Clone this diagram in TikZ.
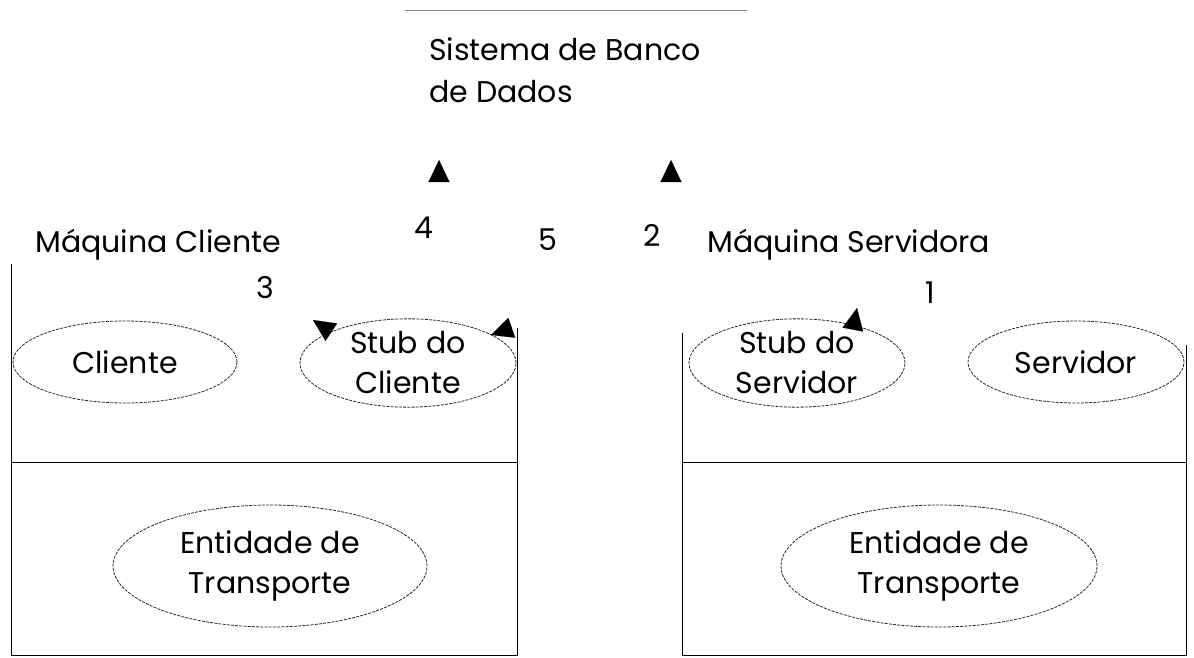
\documentclass[tikz,border=0pt]{standalone}
\usepackage{fontspec}
\setmainfont{Poppins}
\usetikzlibrary{shapes.geometric,arrows.meta}

\begin{document}
\begin{tikzpicture}[x=1pt,y=-1pt,
  proc/.style={ellipse,draw=black!85,line width=0.8pt,dash pattern=on 3pt off 1.2pt,
    align=center,inner sep=0pt,font=\fontsize{30}{40}\selectfont},
  lbl/.style={inner sep=0pt,font=\fontsize{30}{42}\selectfont},
  tipline/.style={draw=white,line width=0.1pt,-{Triangle[length=22pt,width=21pt,color=black]}}]
\useasboundingbox (0,0) rectangle (1194,657);

% banco de dados
\draw[black!45,line width=0.6pt] (405,10) -- (747,10);
\node[lbl,anchor=north west,align=left] (banco) at (429,37) {Sistema de Banco\\de Dados};

% maquina cliente
\draw[line width=0.8pt] (11,264) -- (11,655) -- (517,655) -- (517,328);
\draw[line width=0.8pt] (11,462) -- (517,462);
\node[lbl,anchor=west] (mcli) at (35,245) {Máquina Cliente};
\node[proc,minimum width=224pt,minimum height=82pt] (cli) at (125,362) {Cliente};
\node[proc,minimum width=216pt,minimum height=82pt] (scli) at (408,363) {Stub do\\Cliente};
\node[proc,minimum width=314pt,minimum height=122pt] (tcli) at (270,566) {Entidade de\\Transporte};

% maquina servidora
\draw[line width=0.8pt] (682,333) -- (682,655) -- (1186,655) -- (1186,345);
\draw[line width=0.8pt] (682,462) -- (1186,462);
\node[lbl,anchor=west] (mser) at (707,245) {Máquina Servidora};
\node[proc,minimum width=216pt,minimum height=82pt] (sser) at (797,363) {Stub do\\Servidor};
\node[proc,minimum width=216pt,minimum height=82pt] (ser) at (1076,362) {Servidor};
\node[proc,minimum width=316pt,minimum height=122pt] (tser) at (939,566) {Entidade de\\Transporte};

% numeros
\node[lbl] (n1) at (930,293) {1};
\node[lbl] (n2) at (652,235) {2};
\node[lbl] (n3) at (265,288) {3};
\node[lbl] (n4) at (424,228) {4};
\node[lbl] (n5) at (548,240) {5};

% pontas de seta
\coordinate (p4) at (439,160);
\coordinate (p2) at (671,160);
\coordinate (p3) at (313,320);
\coordinate (p5) at (491,335);
\coordinate (p1) at (857,308);
\draw[tipline] (p4) ++(0,28) -- (p4);
\draw[tipline] (p2) ++(0,28) -- (p2);
\draw[tipline] (p3) ++(24,16) -- (p3);
\draw[tipline] (p5) ++(26,-9) -- (p5);
\draw[tipline] (p1) ++(-5,26) -- (p1);
\end{tikzpicture}
\end{document}
